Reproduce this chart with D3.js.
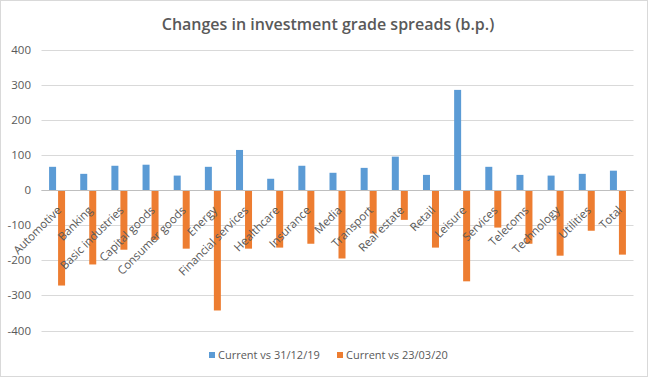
<!DOCTYPE html>
<html>
<head>
<meta charset="utf-8">
<script src="https://cdn.jsdelivr.net/npm/d3@7"></script>
<style>
  body { margin: 0; background: #fff; }
  text { font-family: "Open Sans", "Liberation Sans", sans-serif; fill: #595959; }
</style>
</head>
<body>
<svg id="chart"></svg>
<script>
// sectors along the x axis
const sectors = ["Automotive", "Banking", "Basic industries", "Capital goods", "Consumer goods",
  "Energy", "Financial services", "Healthcare", "Insurance", "Media", "Transport", "Real estate",
  "Retail", "Leisure", "Services", "Telecoms", "Technology", "Utilities", "Total"];
// spread change in b.p.
const vsDec19 = [66, 46, 69, 72, 41, 66, 114, 32, 69, 49, 63, 95, 43, 285, 66, 43, 41, 46, 55];
const vsMar20 = [-272, -212, -170, -142, -167, -343, -167, -164, -153, -195, -124, -85, -164, -260, -107, -153, -187, -116, -184];
const seriesNames = ["Current vs 31/12/19", "Current vs 23/03/20"];
const yTicks = [400, 300, 200, 100, 0, -100, -200, -300, -400];

const width = 648, height = 377;
const margin = { top: 49.5, right: 14.5, bottom: 46.5, left: 41.5 };
const colors = ["#5B9BD5", "#ED7D31"];

const svg = d3.select("#chart")
  .attr("width", width)
  .attr("height", height);

svg.append("rect")
  .attr("x", 0.5).attr("y", 0.5)
  .attr("width", width - 1).attr("height", height - 1)
  .attr("fill", "#fff")
  .attr("stroke", "#D9D9D9");

const x = d3.scaleBand()
  .domain(sectors)
  .range([margin.left, width - margin.right]);

const y = d3.scaleLinear()
  .domain([-400, 400])
  .range([height - margin.bottom, margin.top]);

// gridlines
svg.append("g")
  .selectAll("line")
  .data(yTicks)
  .join("line")
    .attr("x1", margin.left)
    .attr("x2", width - margin.right)
    .attr("y1", d => Math.round(y(d)) + 0.5)
    .attr("y2", d => Math.round(y(d)) + 0.5)
    .attr("stroke", "#D9D9D9");

// y labels
svg.append("g")
  .selectAll("text")
  .data(yTicks)
  .join("text")
    .attr("x", 31)
    .attr("y", d => y(d))
    .attr("dy", "0.35em")
    .attr("text-anchor", "end")
    .attr("font-size", "11.5px")
    .text(d => d);

const barW = 7;
const rows = sectors.map((s, i) => ({ name: s, a: vsDec19[i], b: vsMar20[i] }));

svg.append("g")
  .attr("fill", colors[0])
  .selectAll("rect")
  .data(rows)
  .join("rect")
    .attr("x", d => x(d.name) + x.bandwidth() / 2 - 8)
    .attr("width", barW)
    .attr("y", d => y(Math.max(0, d.a)))
    .attr("height", d => Math.abs(y(d.a) - y(0)));

svg.append("g")
  .attr("fill", colors[1])
  .selectAll("rect")
  .data(rows)
  .join("rect")
    .attr("x", d => x(d.name) + x.bandwidth() / 2 + 1)
    .attr("width", barW)
    .attr("y", d => y(Math.max(0, d.b)))
    .attr("height", d => Math.abs(y(d.b) - y(0)));

// zero axis line
svg.append("line")
  .attr("x1", margin.left)
  .attr("x2", width - margin.right)
  .attr("y1", Math.round(y(0)) + 0.5)
  .attr("y2", Math.round(y(0)) + 0.5)
  .attr("stroke", "#BFBFBF");

// category labels, rotated
svg.append("g")
  .selectAll("text")
  .data(sectors)
  .join("text")
    .attr("font-size", "11.5px")
    .attr("text-anchor", "end")
    .attr("transform", d => `translate(${x(d) + x.bandwidth() / 2 + 5},${y(0) + 21}) rotate(-45)`)
    .text(d => d);

// title
svg.append("text")
  .attr("x", 328)
  .attr("y", 30)
  .attr("text-anchor", "middle")
  .attr("font-size", "16px")
  .attr("font-weight", 600)
  .text("Changes in investment grade spreads (b.p.)");

// legend
const legendX = [209, 337];
const legend = svg.append("g")
  .selectAll("g")
  .data(seriesNames)
  .join("g")
    .attr("transform", (d, i) => `translate(${legendX[i]},355)`);

legend.append("rect")
  .attr("x", 0).attr("y", -3)
  .attr("width", 6).attr("height", 6)
  .attr("fill", (d, i) => colors[i]);

legend.append("text")
  .attr("x", 9)
  .attr("dy", "0.35em")
  .attr("font-size", "11px")
  .text(d => d);
</script>
</body>
</html>
